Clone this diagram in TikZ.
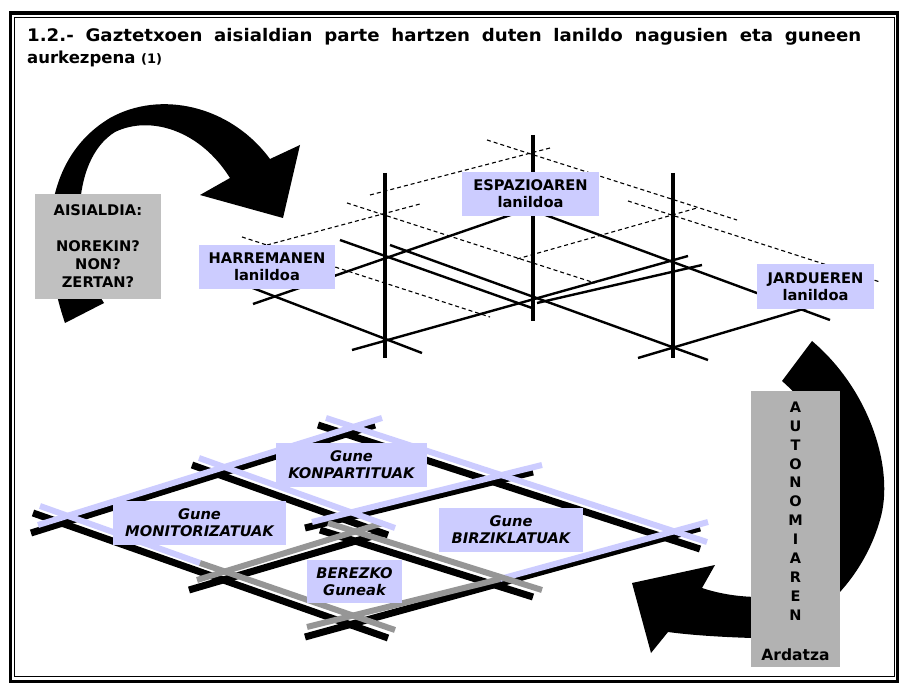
\documentclass[tikz,border=0pt]{standalone}
\usepackage{fontspec}
\setmainfont{DejaVu Sans}
\newfontfamily\ttlfont{DejaVu Sans}[FakeStretch=1.05]
\definecolor{lav}{RGB}{204,204,255}
\definecolor{boxgrayA}{RGB}{192,192,192}
\definecolor{boxgrayB}{RGB}{178,178,178}
\definecolor{linegray}{RGB}{150,150,150}
\begin{document}
\begin{tikzpicture}[x=1pt,y=-1pt]
\tikzset{
  lab/.style={fill=lav, font=\bfseries\fontsize{14.67}{17}\selectfont, align=center, inner sep=0pt, minimum height=44pt},
  labi/.style={lab, font=\bfseries\itshape\fontsize{14.67}{17}\selectfont},
  thinl/.style={line width=2.4pt},
  post/.style={line width=4pt},
  dsh/.style={line width=1.1pt, dash pattern=on 4pt off 3pt},
  kline/.style={line width=7pt},
  cline/.style={line width=6pt},
  graybox/.style={inner sep=0pt, font=\bfseries\fontsize{14.67}{18}\selectfont, align=center},
  titleA/.style={anchor=base west, inner sep=0pt, font=\ttlfont\bfseries\fontsize{17.3}{20}\selectfont},
  titleB/.style={anchor=base west, inner sep=0pt, font=\bfseries\fontsize{16.5}{20}\selectfont}
}
\useasboundingbox (0,0) rectangle (899,684);
\fill[white] (0,0) rectangle (899,684);
% frame
\draw[line width=3.5pt] (10.5,13) rectangle (897.5,681.5);
\draw[line width=1pt] (14.5,17.5) rectangle (894,676);
% title
\node[titleA] (t1) at (27,42) {\makebox[834pt][s]{1.2.- Gaztetxoen aisialdian parte hartzen duten lanildo nagusien eta guneen}};
\node[titleB] (t2) at (27,64) {aurkezpena {\fontsize{13}{14}\selectfont (1)}};

% left curved arrow
\fill (65,323) .. controls (40,250) and (40,160) .. (110,118) .. controls (160,90) and (230,105) .. (270,159) -- (300,145) -- (283,218) -- (200,195) -- (230,178) .. controls (200,130) and (150,115) .. (115,132) .. controls (70,160) and (70,250) .. (104,303) -- cycle;
\node[graybox, fill=boxgrayA, minimum width=126pt, minimum height=105pt] (ais) at (98,246.5) {AISIALDIA:\\[18pt]NOREKIN?\\NON?\\ZERTAN?};

% top grid: dashed
\draw[dsh] (487,140) -- (737,220);
\draw[dsh] (370,195) -- (550,148);
\draw[dsh] (347,203) -- (595,283);
\draw[dsh] (267,245) -- (420,204);
\draw[dsh] (517,259) -- (697,208);
\draw[dsh] (242,237) -- (490,317);
\draw[dsh] (628,201) -- (880,282);
% top grid: solid
\draw[thinl] (253,304) -- (525,210);
\draw[thinl] (245,285) -- (422,353);
\draw[thinl] (340,240) -- (532,308);
\draw[thinl] (390,245) -- (708,360);
\draw[thinl] (540,213) -- (830,320);
\draw[thinl] (352,350) -- (688,256);
\draw[thinl] (537,303) -- (702,265);
\draw[thinl] (638,358) -- (810,307);
% posts
\draw[post] (385,173) -- (385,358);
\draw[post] (533,135) -- (533,321);
\draw[post] (673,173) -- (673,358);
% top labels
\node[lab, minimum width=136pt] (harr) at (267,267) {HARREMANEN\\lanildoa};
\node[lab, minimum width=137pt] (espa) at (530.5,194) {ESPAZIOAREN\\lanildoa};
\node[lab, minimum width=117pt, minimum height=45pt] (jard) at (815.5,286.5) {JARDUEREN\\lanildoa};

% bottom grid: black
\draw[kline] (31,533) -- (375,425);
\draw[kline] (189,590) -- (383,533);
\draw[kline] (305,528) -- (533,472);
\draw[kline] (305,637) -- (700,528);
\draw[kline] (318,425) -- (700,549);
\draw[kline] (192,465) -- (388,535);
\draw[kline] (320,530) -- (533,597);
\draw[kline] (33,513) -- (388,638);
% bottom grid: coloured
\draw[cline, lav] (38,525) -- (382,418);
\draw[cline, linegray] (197,580) -- (383,523);
\draw[cline, lav] (312,522) -- (542,465);
\draw[cline, linegray] (307,627) -- (500,579);
\draw[cline, lav] (500,579) -- (708,522);
\draw[cline, lav] (326,418) -- (707,542);
\draw[cline, lav] (199,458) -- (395,528);
\draw[cline, linegray] (328,523) -- (542,590);
\draw[cline, lav] (40,506) -- (200,563);
\draw[cline, linegray] (200,563) -- (395,630);
% bottom labels
\node[labi, minimum width=151pt] (konp) at (351.5,465) {Gune\\KONPARTITUAK};
\node[labi, minimum width=173pt] (moni) at (199.5,523) {Gune\\MONITORIZATUAK};
\node[labi, minimum width=144pt] (birz) at (511,530) {Gune\\BIRZIKLATUAK};
\node[labi, minimum width=95pt, minimum height=43pt] (bere) at (354.5,581.5) {BEREZKO\\Guneak};

% right curved arrow
\fill (782,381) -- (812,341) .. controls (870,390) and (895,470) .. (880,520) .. controls (860,590) and (800,638) .. (752,638) .. controls (720,637) and (690,635) .. (668,632) -- (651,653) -- (632,583) -- (715,565) -- (702,588) .. controls (720,594) and (740,597) .. (760,597) .. controls (815,592) and (838,545) .. (838,500) .. controls (838,450) and (815,410) .. (782,381) -- cycle;
\node[fill=boxgrayB, minimum width=89pt, minimum height=276pt, inner sep=0pt] (auto) at (795.5,529) {};
\node[graybox, font=\bfseries\fontsize{14.5}{18.9}\selectfont] (autot) at (795.5,511) {A\\U\\T\\O\\N\\O\\M\\I\\A\\R\\E\\N};
\node[graybox, font=\bfseries\fontsize{15.5}{17}\selectfont] (ard) at (795.5,655) {Ardatza};
\end{tikzpicture}
\end{document}
